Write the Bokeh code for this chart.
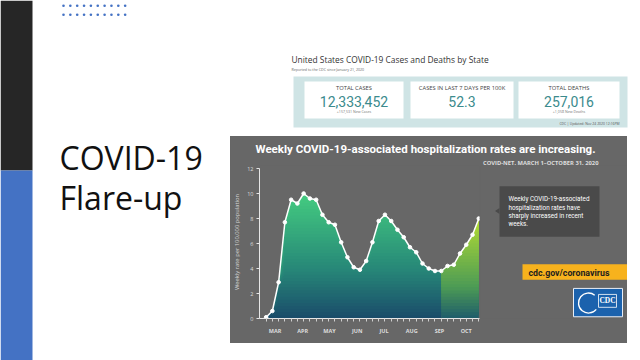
import numpy as np
import pandas as pd
from bokeh.plotting import figure
from bokeh.layouts import row, column
from bokeh.models import Range1d, FixedTicker
from bokeh.core.properties import value
from bokeh.embed import file_html
from bokeh.resources import INLINE

# ---------------- data ----------------
week_ending = pd.date_range("2020-03-07", periods=35, freq="7D")
weekly_rate = [0.1, 0.6, 2.9, 7.7, 9.5, 9.2, 10.0, 9.6, 9.5, 8.3, 7.7, 7.5,
               6.1, 4.9, 4.1, 3.9, 4.6, 6.1, 7.8, 8.3, 7.8, 7.1, 6.5, 5.7,
               5.3, 4.4, 4.0, 3.8, 3.8, 4.2, 4.3, 5.2, 5.9, 6.7, 8.0]
recent_start = "2020-09-19"
month_labels = ["MAR", "APR", "MAY", "JUN", "JUL", "AUG", "SEP", "OCT"]
month_label_dates = ["2020-03-17", "2020-04-17", "2020-05-17", "2020-06-17",
                     "2020-07-17", "2020-08-17", "2020-09-17", "2020-10-17"]
y_ticks = [0, 2, 4, 6, 8, 10, 12]

card_titles = ["TOTAL CASES", "CASES IN LAST 7 DAYS PER 100K", "TOTAL DEATHS"]
card_values = ["12,333,452", "52.3", "257,016"]
card_notes = ["+157,531 New Cases", "", "+1,058 New Deaths"]

slide_title = ["COVID-19", "Flare-up"]
chart_title = "Weekly COVID-19-associated hospitalization rates are increasing."
chart_subtitle = "COVID-NET, MARCH 1\u2013OCTOBER 31, 2020"
callout_lines = ["Weekly COVID-19-associated", "hospitalization rates have",
                 "sharply increased in recent", "weeks."]

# ---------------- styles ----------------
GRAY = "#676767"
COND = "Roboto"
base = pd.Timestamp("2020-03-01")
days = np.array([(d - base).days for d in week_ending], dtype=float)
rates = np.array(weekly_rate)
split_day = (pd.Timestamp(recent_start) - base).days
month_days = [(pd.Timestamp(d) - base).days for d in month_label_dates]


def canvas(w, h, x0, y0, bg="white"):
    p = figure(width=w, height=h, x_range=Range1d(x0, x0 + w), y_range=Range1d(y0 + h, y0),
               toolbar_location=None, output_backend="svg", min_border=0,
               x_axis_location=None, y_axis_location=None,
               background_fill_color=bg, border_fill_color=bg, outline_line_color=None)
    p.grid.visible = False
    return p


def txt(p, x, y, s, size, color, font="Open Sans", style="normal", align="left", baseline="middle"):
    p.text(x=[x], y=[y], text=[s], text_font=value(font), text_font_size=f"{size}px",
           text_color=color, text_font_style=style, text_align=align, text_baseline=baseline)


def hex2rgb(h):
    h = h.lstrip("#")
    return np.array([int(h[i:i + 2], 16) for i in (0, 2, 4)], dtype=float)


def ramp(stops, t):
    for (t0, c0), (t1, c1) in zip(stops[:-1], stops[1:]):
        if t <= t1:
            f = (t - t0) / (t1 - t0) if t1 > t0 else 0
            c = hex2rgb(c0) * (1 - f) + hex2rgb(c1) * f
            return "#%02x%02x%02x" % tuple(int(round(v)) for v in c)
    return stops[-1][1]


# ---------------- left part ----------------
left = canvas(230, 360, 0, 0)
left.quad(left=0, right=32, top=0, bottom=170, fill_color="#262626", line_color=None)
left.quad(left=0, right=32, top=170, bottom=360, fill_color="#4472c4", line_color=None)
dx = np.arange(10) * 6.85 + 63
left.scatter(np.concatenate([dx, dx]), [5.3] * 10 + [14.3] * 10, size=2.6,
             fill_color="#4472c4", line_color=None)
txt(left, 59, 157, slide_title[0], 32, "#111111")
txt(left, 59, 197, slide_title[1], 32, "#111111")

# ---------------- top right: case counts ----------------
top = canvas(410, 136, 230, 0)
txt(top, 291, 59, "United States COVID-19 Cases and Deaths by State", 8.4, "#333333")
txt(top, 291, 69, "Reported to the CDC since January 21, 2020", 3.6, "#666666")
top.quad(left=293, right=627, top=76, bottom=127, fill_color="#cfe4e5", line_color=None)
card_l = [304, 410, 518]
card_r = [403, 513, 619]
top.quad(left=card_l, right=card_r, top=81, bottom=118, fill_color="white", line_color=None)
for i in range(3):
    cx = (card_l[i] + card_r[i]) / 2
    txt(top, cx, 87.5, card_titles[i], 5.8, "#444444", align="center")
    txt(top, cx, 100.5, card_values[i], 14, "#3b8b8d", font=COND, align="center")
    if card_notes[i]:
        txt(top, cx, 111, card_notes[i], 3.6, "#777777", align="center")
txt(top, 619, 122.5, "CDC | Updated: Nov 24 2020 12:16PM", 3.4, "#555555", align="right")

# ---------------- chart header ----------------
head = canvas(397, 29, 230, 136, GRAY)
txt(head, 425, 148, chart_title, 11.5, "white", font=COND, style="bold", align="center")
txt(head, 598, 162, chart_subtitle, 5.8, "#dddddd", font="Open Sans", style="bold", align="right")

# ---------------- chart ----------------
chart = figure(width=250, height=178, x_range=Range1d(-1.4, 244.8), y_range=Range1d(0, 153 / 12.5),
               toolbar_location=None, output_backend="svg",
               min_border_left=25, min_border_right=1, min_border_top=0, min_border_bottom=25,
               background_fill_color=GRAY, border_fill_color=GRAY, outline_line_color=None)
chart.grid.visible = False

teal_stops = [(0, "#1a4b6a"), (4, "#278878"), (10, "#44cc80")]
green_stops = [(0, "#1e5c6b"), (2.5, "#4c9a55"), (8, "#b3dd33")]
levels = np.arange(0, 10.5, 0.25)
for mask, stops in [(days <= split_day, teal_stops), (days >= split_day, green_stops)]:
    xs, ys = days[mask], rates[mask]
    for lo in levels:
        if lo >= ys.max():
            break
        chart.varea(x=xs, y1=np.minimum(ys, lo), y2=ys, fill_color=ramp(stops, lo + 0.125),
                    fill_alpha=1.0)

chart.line(days, rates, line_color="white", line_width=1.5)
chart.scatter(days, rates, size=3.6, fill_color="white", line_color="white")

yax = chart.yaxis[0]
yax.ticker = FixedTicker(ticks=y_ticks)
yax.bounds = (0, 12)
yax.axis_line_color = "#e6e6e6"
yax.major_tick_line_color = "#e6e6e6"
yax.major_tick_out = 3
yax.major_tick_in = 0
yax.minor_tick_line_color = None
yax.major_label_standoff = 3
yax.major_label_text_font_size = "5.5px"
yax.major_label_text_color = "#dddddd"
yax.major_label_text_font = "Open Sans"
yax.axis_label = "Weekly rate per 100,000 population"
yax.axis_label_text_font_size = "5.8px"
yax.axis_label_text_font_style = "normal"
yax.axis_label_text_color = "#d4d4d4"
yax.axis_label_text_font = "Open Sans"
yax.axis_label_standoff = 3

xax = chart.xaxis[0]
xax.ticker = FixedTicker(ticks=month_days, minor_ticks=list(days))
xax.major_label_overrides = {d: lab for d, lab in zip(month_days, month_labels)}
xax.axis_line_color = "#e6e6e6"
xax.major_tick_line_color = None
xax.major_tick_out = 0
xax.major_tick_in = 0
xax.minor_tick_line_color = "#d0d0d0"
xax.minor_tick_out = 3
xax.minor_tick_in = 0
xax.major_label_standoff = 5
xax.major_label_text_font_size = "5.5px"
xax.major_label_text_font_style = "bold"
xax.major_label_text_color = "#dddddd"
xax.major_label_text_font = "Open Sans"

# ---------------- side panel ----------------
side = canvas(147, 178, 480, 165, GRAY)
side.quad(left=499, right=599, top=189, bottom=248, fill_color="#4a4a4a", line_color=None)
side.patch([499, 494.5, 499], [214.5, 218, 221.5], fill_color="#4a4a4a", line_color=None)
for i, line in enumerate(callout_lines):
    txt(side, 508, 204.3 + i * 9.7, line, 6.3, "white", font=COND)
side.quad(left=522, right=627, top=280, bottom=298, fill_color="#f7b21d", line_color=None)
txt(side, 528, 289.5, "cdc.gov/coronavirus", 8.8, "#1e1e1e", font=COND, style="bold")
side.quad(left=573, right=622, top=308, bottom=341, fill_color="#1b62ad", line_color="#e8eef7", line_width=1)
side.arc(x=[588], y=[325], radius=10, start_angle=0.9, end_angle=5.6, line_color="white", line_width=1.3)
side.quad(left=598, right=616, top=315, bottom=330, fill_color=None, line_color="white", line_width=0.8)
txt(side, 607, 321.5, "CDC", 7.5, "white", font="Liberation Serif", style="bold", align="center")

spacer = canvas(13, 207, 627, 136)
bottom = canvas(410, 17, 230, 343)

panel = column(head, row(chart, side, styles={"background-color": GRAY}),
               styles={"background-color": GRAY})
layout = row(left, column(top, row(panel, spacer), bottom))

open("out.html", "w").write(file_html(layout, INLINE))
